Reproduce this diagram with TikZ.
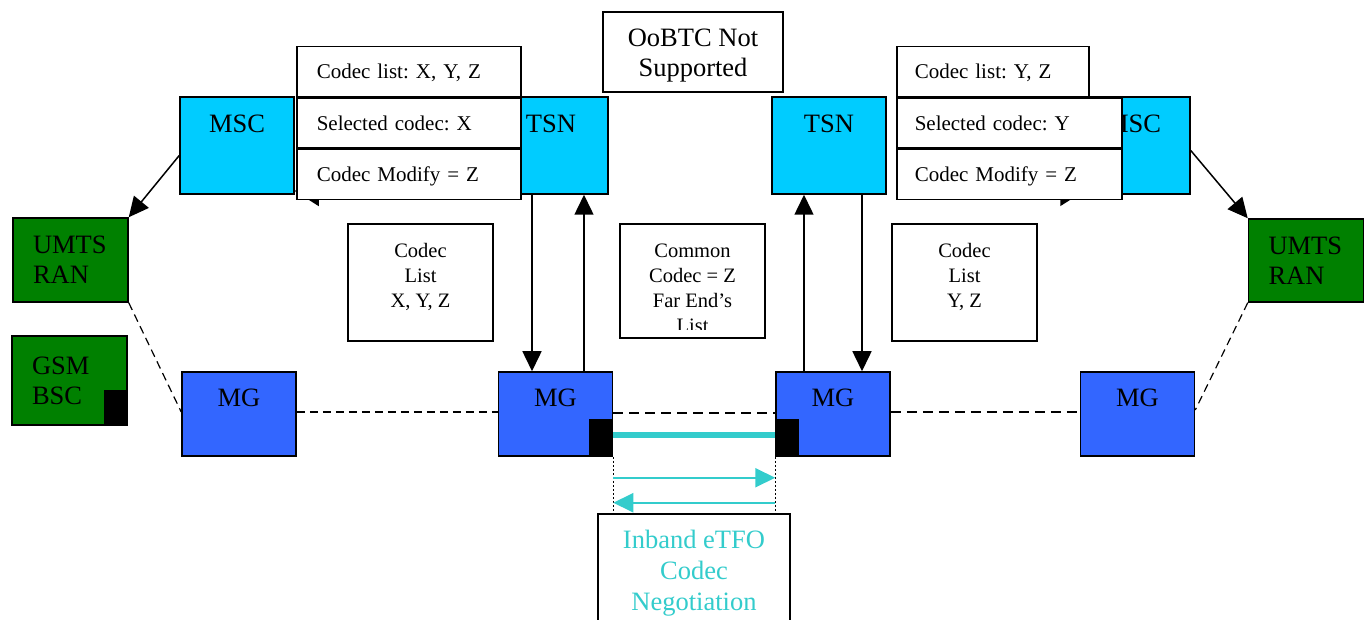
\documentclass[tikz,border=0pt]{standalone}
\usepackage{fontspec}
\setmainfont{Liberation Serif}
\usetikzlibrary{arrows.meta}
\frenchspacing
\definecolor{swcyan}{HTML}{00CCFF}
\definecolor{mgblue}{HTML}{3366FF}
\definecolor{rangreen}{HTML}{008000}
\definecolor{tfocyan}{HTML}{33CCCC}
\tikzset{
  bigtext/.style={font=\fontsize{26.5}{30}\selectfont},
  midtext/.style={align=center, font=\fontsize{20.5}{25}\selectfont},
  sw/.style={draw, fill=swcyan, line width=1.5pt, inner sep=0pt, minimum width=114pt,
    text height=36pt, text depth=61pt, bigtext},
  mg/.style={draw, fill=mgblue, line width=1.5pt, inner sep=0pt, minimum width=114pt,
    text height=34pt, text depth=50pt, bigtext},
  ran/.style={draw, fill=rangreen, line width=1.5pt, inner xsep=20pt, inner ysep=0pt,
    minimum width=115pt, text width=75pt, align=left, bigtext},
  plug/.style={draw, fill=black, line width=1pt, inner sep=0pt, minimum width=23pt, minimum height=37pt},
  row/.style={draw, fill=white, line width=1.5pt, anchor=north west, inner xsep=20pt, inner ysep=0pt,
    text height=32pt, text depth=18pt, align=left, font=\fontsize{21}{25}\selectfont},
  note/.style={draw, fill=white, line width=1.5pt, inner sep=0pt, minimum width=145pt, minimum height=117pt},
  flow/.style={line width=1.5pt, -{Triangle[length=20pt,width=19pt]}},
  hidden/.style={line width=1.5pt, -{Triangle[length=24pt,width=30pt]}},
  link/.style={line width=1.2pt, dash pattern=on 8pt off 5pt},
  trunk/.style={line width=2.2pt, dash pattern=on 10pt off 6pt},
  tfo/.style={tfocyan, line width=2pt, -{Triangle[length=20pt,width=19pt]}},
}
\begin{document}
\begin{tikzpicture}[x=1pt,y=-1pt]
\clip (0,0) rectangle (1371,620);
\node [sw] (mscL) at (237,145.5) {MSC};
\node [sw] (tsnL) at (551,145.5) {TSN};
\node [sw] (tsnR) at (829,145.5) {TSN};
\node [sw] (mscR) at (1133,145.5) {MSC};
\draw [hidden] ([yshift=-45.5pt]tsnL.west) -- ([yshift=-45.5pt]mscL.east);
\draw [hidden, shorten <=12pt, shorten >=-9pt] ([yshift=-45.5pt]tsnR.east) -- ([yshift=-45.5pt]mscR.west);
\node [row, minimum width=224pt, text width=184pt] (listL) at (296,46) {Codec list: X, Y, Z};
\node [row, minimum width=224pt, text width=184pt] (selL) at (listL.south west) {Selected codec: X};
\node [row, minimum width=224pt, text width=184pt] (modL) at (selL.south west) {Codec Modify = Z};
\node [row, inner xsep=18pt, minimum width=192pt, text width=156pt] (listR) at (896,46) {Codec list: Y, Z};
\node [row, inner xsep=18pt, minimum width=225pt, text width=189pt] (selR) at (listR.south west) {Selected codec: Y};
\node [row, inner xsep=18pt, minimum width=225pt, text width=189pt] (modR) at (selR.south west) {Codec Modify = Z};
\node [draw, fill=white, line width=1.5pt, minimum width=180pt, minimum height=80pt] (oobtc) at (693,52) {};
\node [align=center, bigtext] (oobtcText) at ([yshift=-4pt]oobtc.center) {OoBTC Not\\Supported};
\node [note] (cdlL) at (420.5,282.5) {};
\node [midtext] (cdlLText) at ([yshift=6pt]cdlL.center) {Codec\\List\\X, Y, Z};
\node [note, minimum height=114pt] (common) at (692.5,281) {};
\begin{scope}
\clip (common.north west) rectangle ([yshift=9pt]common.south east);
\node [midtext] (commonText) at ([yshift=-7pt]common.center) {Common\\Codec = Z\\Far End’s\\List};
\end{scope}
\node [note] (cdlR) at (964.5,282.5) {};
\node [midtext] (cdlRText) at ([yshift=6pt]cdlR.center) {Codec\\List\\Y, Z};
\node [ran, minimum height=84pt] (ranL) at (70.5,260) {UMTS\\RAN};
\node [ran, minimum height=89pt] (bsc) at (69.5,380.5) {GSM\\BSC};
\node [plug, minimum height=35pt, anchor=south east] (bscPlug) at (bsc.south east) {};
\node [ran, minimum height=83pt] (ranR) at (1306,260.5) {UMTS\\RAN};
\node [mg] (mgA) at (239,414) {MG};
\node [mg] (mgB) at (555.5,414) {MG};
\node [mg] (mgC) at (833,414) {MG};
\node [mg] (mgD) at (1137.5,414) {MG};
\node [plug, anchor=south east] (plugB) at (mgB.south east) {};
\node [plug, anchor=south west] (plugC) at (mgC.south west) {};
\node [draw, fill=white, line width=1.5pt, minimum width=192pt, minimum height=114pt] (inband) at (694,571) {};
\node [align=center, text=tfocyan, font=\fontsize{26.5}{31}\selectfont] (inbandText) at ([yshift=-2pt]inband.center) {Inband eTFO\\Codec\\Negotiation};
\draw [flow] ([yshift=-10pt]mscL.west) -- (ranL.north east);
\draw [flow] ([yshift=-5pt]mscR.east) -- (ranR.north west);
\draw [flow] ([xshift=-19pt]tsnL.south) -- ([xshift=-23.5pt]mgB.north);
\draw [flow] ([xshift=28.5pt]mgB.north) -- ([xshift=33pt]tsnL.south);
\draw [flow] ([xshift=-29pt]mgC.north) -- ([xshift=-25pt]tsnR.south);
\draw [flow] ([xshift=33pt]tsnR.south) -- ([xshift=29pt]mgC.north);
\draw [link] (ranL.south east) -- ([yshift=2pt]mgA.west);
\draw [link] ([yshift=2pt]mgA.east) -- ([yshift=2pt]mgB.west);
\draw [trunk] ([yshift=1pt]mgB.east) -- ([yshift=1pt]mgC.west);
\draw [trunk] ([yshift=2pt]mgC.east) -- ([yshift=2pt]mgD.west);
\draw [link] (ranR.south west) -- ([yshift=4pt]mgD.east);
\draw [tfocyan, line width=6.5pt] ([yshift=-21pt]mgB.east) -- ([yshift=-21pt]mgC.west);
\draw [line width=1.5pt, dash pattern=on 2pt off 2pt] (mgB.south east) -- (mgB.south east |- inband.north);
\draw [line width=1.5pt, dash pattern=on 2pt off 2pt] (mgC.south west) -- (mgC.south west |- inband.north);
\draw [tfo] ([yshift=-21pt]mgB.south east) -- ([yshift=-21pt]mgC.south west);
\draw [tfo] ([yshift=-46pt]mgC.south west) -- ([yshift=-46pt]mgB.south east);
\end{tikzpicture}
\end{document}
